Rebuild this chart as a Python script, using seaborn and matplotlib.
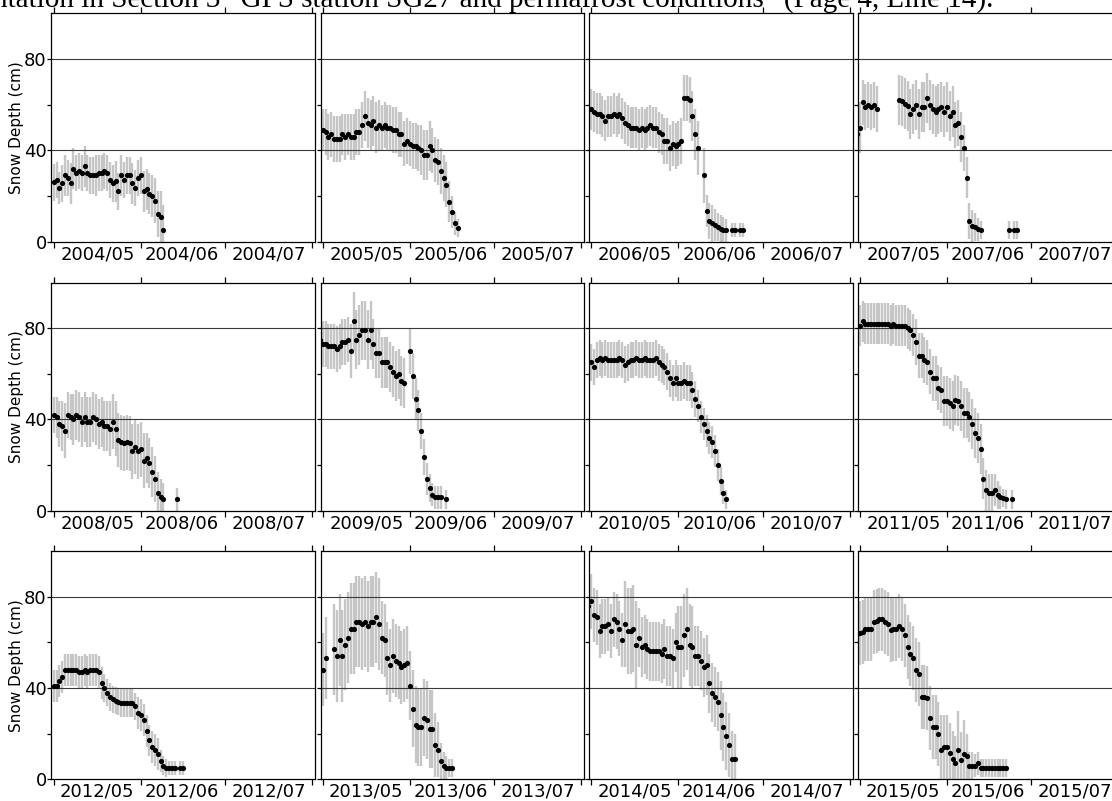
import numpy as np
import pandas as pd
import matplotlib
matplotlib.use("Agg")
import matplotlib.pyplot as plt
import seaborn as sns

# Daily snow depth (cm) and error half-width, day 0 = May 1; None = no data
years = [2004, 2005, 2006, 2007, 2008, 2009, 2010, 2011, 2012, 2013, 2014, 2015]
start_day = {2004: 0, 2005: 0, 2006: 0, 2007: -1, 2008: 0, 2009: -1,
             2010: 0, 2011: 0, 2012: 0, 2013: -1, 2014: -1, 2015: -1}

depth_2004 = [26, 27, 23.5, 25.5, 29, 28, 25.5, 32, 30, 31, 30, 33, 30, 29, 29, 29, 30, 30, 31, 30,
              27, 25.5, 26.5, 22, 29, 27, 29, 29, 25.5, 23.5, 28, 29, 22, 23, 21, 20, 18, 12, 11, 5]
err_2004 = [8, 8, 7, 8, 9, 8, 9, 9, 8, 8, 8, 9, 8, 8, 8, 9, 8, 8, 8, 8,
            8, 8, 9, 8, 9, 8, 8, 8, 9, 8, 8, 8, 9, 9, 9, 9, 10, 10, 11, 11]

depth_2005 = [49, 48, 46, 47, 45, 45, 45, 47, 46, 47, 46, 46, 48, 48, 51, 55, 52, 51, 53, 50,
              51, 50, 51, 50, 50, 49, 49, 47, 47, 43, 44, 43, 42, 42, 41, 40, 38, 38, 42, 40,
              36, 35, 31, 28, 25, 17.5, 13, 8, 6]
err_2005 = [9, 10, 10, 10, 10, 10, 10, 9, 10, 9, 10, 10, 10, 10, 10, 11, 11, 11, 11, 11,
            11, 10, 10, 10, 10, 10, 10, 10, 10, 10, 10, 10, 10, 10, 10, 11, 11, 11, 11, 10,
            10, 10, 10, 10, 10, 9, 7, 5, 4]

depth_2006 = [58, 57, 56, 56, 55, 53, 55, 55, 56, 55, 56, 54, 52, 51, 50, 50, 50, 49, 50, 49,
              50, 51, 50, 50, 48, 47, 44, 44, 41, 43, 42, 43, 44, 63, 63, 62, 55, 47, 41, None,
              29, 13.5, 9, 8, 7.5, 6.5, 5.5, 5, 5, None, 5, 5, None, 5, 5]
err_2006 = [9, 9, 9, 9, 9, 9, 9, 9, 9, 9, 9, 9, 9, 9, 9, 9, 9, 9, 9, 9,
            9, 9, 9, 9, 9, 9, 10, 10, 10, 10, 10, 10, 10, 10, 10, 10, 11, 11, 12, None,
            12, 7, 8, 8, 7, 6, 6, 6, 5, None, 3, 3, None, 3, 3]

depth_2007 = [47, 50, 61, 59, 60, 59, 60, 58, None, None, None, None, None, None, None,
              62, 61.5, 60.5, 59.5, 56, 58, 60, 56, 59, 59, 63, 60, 58, 57, 58, 59, 57, 59, 55, 57,
              51, 52, 46, 41, 28, 9, 7, 6.5, 5.5, 5,
              None, None, None, None, None, None, None, None, None, 5, None, 5, 5]
err_2007 = [8, 11, 10, 10, 10, 10, 10, 10, None, None, None, None, None, None, None,
            11, 11, 11, 11, 11, 11, 11, 11, 11, 11, 11, 11, 11, 11, 11, 11, 11, 11, 11, 11,
            10, 10, 11, 10, 9, 8, 7, 6, 5, 4,
            None, None, None, None, None, None, None, None, None, 4, None, 4, 4]

depth_2008 = [42, 41, 38, 37, 35, 42, 41, 40, 42, 41, 39, 41, 39, 39, 41, 40, 38, 39, 37, 37,
              36, 39, 36, 31, 30, 29.5, 30, 29.5, 26, 28, 26, 27, 22, 23, 21, 17, 14, 8, 6, 5,
              None, None, None, None, 5]
err_2008 = [8, 9, 10, 11, 12, 10, 10, 11, 11, 11, 11, 11, 11, 11, 11, 11, 11, 11, 11, 11,
            12, 12, 12, 12, 12, 12, 12, 12, 12, 12, 12, 12, 12, 11, 11, 11, 10, 9, 8, 7,
            None, None, None, None, 5]

depth_2009 = [75, 73, 73, 72, 72, 72, 71, 72, 74, 74, 75, 70, 83, 75, 77, 79, 79, 75, 79, 73,
              69, 69, 65, 65, 65, 63, 61, 59, 60, 57, 56, None,
              70, 59, 49, 44, 35, 23.5, 14, 10, 7, 6, 6, 6, None, 5]
err_2009 = [9, 10, 10, 10, 10, 10, 10, 10, 10, 10, 10, 12, 13, 13, 13, 13, 13, 13, 13, 11,
            11, 11, 11, 11, 11, 11, 11, 11, 11, 11, 11, None,
            10, 10, 9, 9, 8, 8, 7, 6, 5, 5, 5, 5, None, 4]

depth_2010 = [65, 63, 66, 67, 66, 67, 66, 66, 66, 66, 67, 66, 64, 65, 66, 66, 67, 66, 66, 67,
              66, 66, 66, 67, 65, 64, 63, 61, 58, 56, 58, 56, 56, 57, 56, 56, 53, 49, 46, 41,
              38, 35, 32, 30, 26, 20, 13, 8, 5]
err_2010 = [8, 8, 8, 8, 8, 8, 8, 8, 8, 8, 8, 8, 8, 8, 8, 8, 8, 8, 8, 8,
            8, 8, 8, 8, 8, 8, 8, 8, 8, 8, 8, 8, 8, 8, 8, 8, 8, 8, 7, 7,
            7, 7, 7, 7, 7, 7, 6, 5, 4]

depth_2011 = [81, 83, 82, 82, 82, 82, 82, 82, 82, 82, 82, 81, 82, 81, 81, 81, 81, 80, 79, 77,
              74, 68, 68, 66, 65, 61, 58, 58, 54, 53, 48, 48, 47, 46, 48.5, 48, 46, 43, 43, 41,
              38, 34, 32, 27, 14, 9, 8, 8, 9, 7, 6, 5.7, 5, None, 5]
err_2011 = [9, 9, 9, 9, 9, 9, 9, 9, 9, 9, 9, 9, 9, 9, 9, 9, 9, 9, 9, 9,
            10, 10, 10, 10, 10, 10, 10, 10, 10, 10, 11, 11, 11, 11, 11, 11, 11, 11, 11, 11,
            11, 11, 11, 11, 9, 9, 8, 8, 7, 6, 5, 4, 4, None, 4]

depth_2012 = [41, 41, 43, 45, 48, 48, 48, 48, 48, 47, 47, 48, 47, 48, 48, 48, 47, 42, 40, 38,
              36, 35, 34.5, 34, 33.5, 33.5, 33.5, 33.5, 33.5, 32, 29, 28, 26, 21, 17, 14, 13, 11, 8, 6,
              5, 5, 5, 5, None, 5, 5]
err_2012 = [7, 7, 7, 7, 7, 7, 7, 7, 7, 7, 7, 7, 7, 7, 7, 7, 7, 7, 6, 6,
            6, 6, 6, 6, 6, 6, 6, 6, 6, 6, 7, 7, 7, 7, 7, 7, 7, 7, 5, 4,
            4, 3, 3, 3, None, 3, 3]

depth_2013 = [48, 48, 53, None, None, 57, 54, 61, 54, 59, 62, 66, 66, 69, 69, 68, 69, 67, 69, 69,
              71, 68, 62, 61, 53, 50, 54, 52, 51, 49, 50, 51, 41, 31, 24, 23, 23, 27, 26, 22,
              22, 15, 13, 8, 6, 5, 5, 5]
err_2013 = [16, 16, 18, None, None, 20, 20, 20, 20, 20, 20, 20, 20, 20, 20, 20, 20, 20, 20, 20,
            20, 20, 16, 16, 16, 16, 16, 16, 16, 16, 16, 16, 15, 17, 17, 17, 17, 17, 17, 17,
            17, 14, 12, 8, 6, 5, 4, 4]

depth_2014 = [76, 78, 72, 71, 65, 67, 67, 68, 65, 70, 69, 66, 61, 68, 65, 65, 66, 59, 62, 58,
              59, 57, 56, 56, 56, 56, 55, 57, 54, 54, 53, 60, 58, 58, 63, 66, 59, 58, 54, 54,
              52, 49, 50, 42, 38, 36, 34, 28, 23, 19, 15, 9, 9]
err_2014 = [18, 12, 12, 12, 12, 12, 12, 12, 12, 12, 12, 12, 12, 19, 19, 19, 19, 19, 13, 13,
            13, 13, 13, 13, 13, 13, 13, 13, 13, 13, 13, 13, 18, 18, 18, 18, 18, 18, 13, 13,
            13, 13, 13, 13, 13, 13, 13, 15, 15, 15, 14, 12, 11]

depth_2015 = [63.5, 64, 64.7, 65.7, 66, 66, 69, 69.5, 70, 70, 69, 68, 65.5, 66, 65.7, 67, 66, 63, 58, 55,
              53, 48, 46, 36, 36, 35.5, 27, 23, 23, 20, 13, 14, 14, 11.7, 9, 7, 13, 8.5, 11, 10,
              6, 6, 6, 7, 5, 5, 5, 5, 5, 5, 5, 5, 5, 5]
err_2015 = [14, 14, 14, 14, 14, 14, 14, 14, 14, 14, 14, 14, 14, 14, 14, 14, 14, 14, 14, 14,
            14, 14, 14, 14, 14, 14, 14, 14, 14, 14, 15, 14, 14, 13, 12, 12, 17, 12, 15, 10,
            6, 6, 5, 5, 4, 4, 4, 4, 4, 4, 4, 4, 4, 4]

depths = {2004: depth_2004, 2005: depth_2005, 2006: depth_2006, 2007: depth_2007,
          2008: depth_2008, 2009: depth_2009, 2010: depth_2010, 2011: depth_2011,
          2012: depth_2012, 2013: depth_2013, 2014: depth_2014, 2015: depth_2015}
errs = {2004: err_2004, 2005: err_2005, 2006: err_2006, 2007: err_2007,
        2008: err_2008, 2009: err_2009, 2010: err_2010, 2011: err_2011,
        2012: err_2012, 2013: err_2013, 2014: err_2014, 2015: err_2015}

rows = []
for y in years:
    for i, (d, e) in enumerate(zip(depths[y], errs[y])):
        if d is None:
            continue
        rows.append({"year": y, "day": start_day[y] + i, "depth": d, "err": e})
df = pd.DataFrame(rows)

month_edges = [0, 31, 61, 92]        # May 1, Jun 1, Jul 1, Aug 1
month_mids = [15.5, 45.5, 76.5]

sns.set_style("ticks", {"axes.edgecolor": "black", "xtick.color": "black",
                        "ytick.color": "black", "text.color": "black",
                        "axes.labelcolor": "black"})
plt.rcParams["font.family"] = ["DejaVu Sans"]
plt.rcParams["axes.linewidth"] = 0.9

W, H = 1112, 801
fig = plt.figure(figsize=(W / 100, H / 100), dpi=100)

col_left = [51.5, 320.5, 589, 857.5]
row_top = [13.4, 282.5, 551]
ax_w, ax_h = 263.5, 228.3

for k, y in enumerate(years):
    r, c = divmod(k, 4)
    ax = fig.add_axes([col_left[c] / W, (H - row_top[r] - ax_h) / H, ax_w / W, ax_h / H])
    sub = df[df["year"] == y]
    ax.vlines(sub["day"], sub["depth"] - sub["err"], sub["depth"] + sub["err"],
              color="#c6c6c6", lw=1.7, zorder=1)
    for g in (40, 80):
        ax.axhline(g, color="#3a3a3a", lw=0.8, zorder=2)
    sns.scatterplot(data=sub, x="day", y="depth", color="black", s=14,
                    linewidth=0, ax=ax, zorder=3, legend=False)

    ax.set_xlim(-0.8, 92.9)
    ax.set_ylim(0, 100)
    ax.set_xticks(month_edges)
    ax.set_xticklabels([])
    ax.set_xticks(month_mids, minor=True)
    ax.set_xticklabels([f"{y}/05", f"{y}/06", f"{y}/07"], minor=True)
    ax.tick_params(axis="x", which="major", direction="out", length=4, width=0.9,
                   top=True, bottom=True)
    ax.tick_params(axis="x", which="minor", length=0, pad=2.5, labelsize=13)

    ax.set_yticks([0, 40, 80])
    ax.set_yticks([20, 60], minor=True)
    ax.tick_params(axis="y", which="major", direction="out", length=3, width=0.9,
                   pad=0.5, labelsize=13)
    ax.tick_params(axis="y", which="minor", direction="out", length=3, width=0.9)
    ax.set_xlabel("")
    if c == 0:
        ax.set_ylabel("Snow Depth (cm)", fontsize=11)
        ax.yaxis.set_label_coords(-0.103, 0.5)
    else:
        ax.set_ylabel("")
        ax.set_yticklabels([])
    for s in ax.spines.values():
        s.set_color("black")
        s.set_linewidth(0.9)

# cropped line of document text above the figure
note = fig.text(-7 / W, (H - 7.5) / H,
                "ntation in Section 3 \u201cGPS station SG27 and permafrost conditions\u201d (Page 4, Line 14).",
                family="Liberation Serif", fontsize=20, va="baseline", ha="left")
fig.canvas.draw()
w = note.get_window_extent().width
note.set_fontsize(20 * 1000 / w)

fig.savefig("out.png", dpi=100)
